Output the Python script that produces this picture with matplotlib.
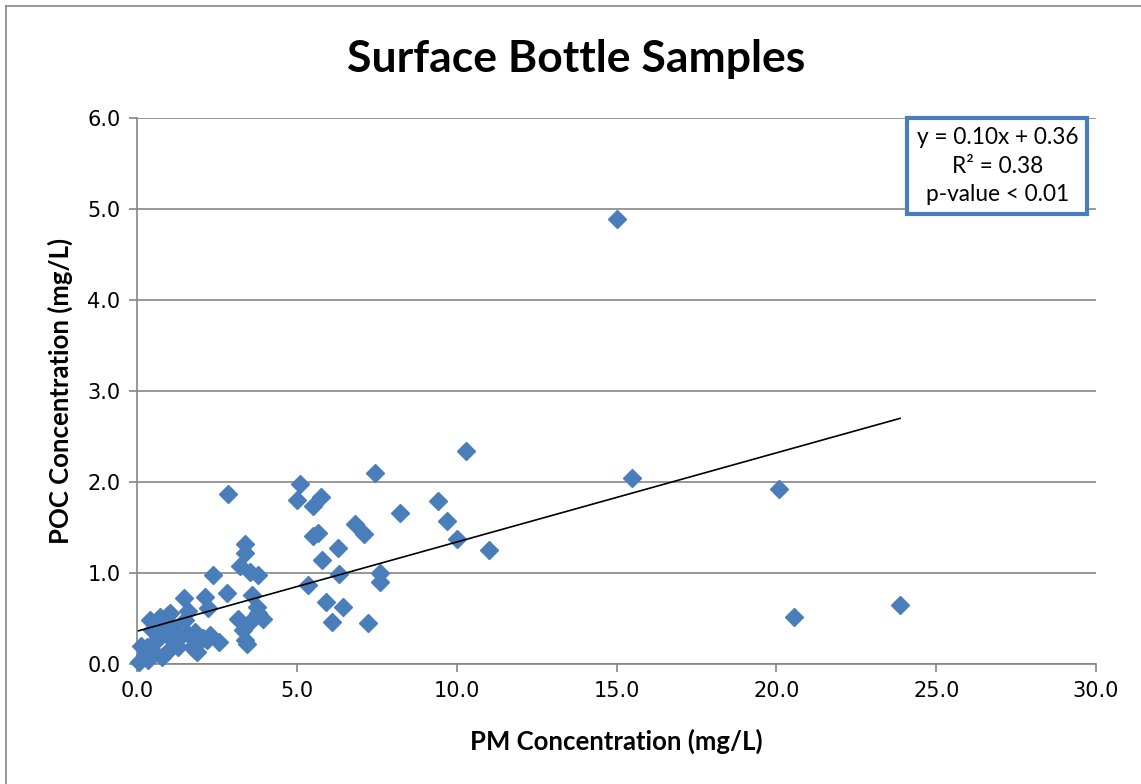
import matplotlib
matplotlib.use("Agg")
import matplotlib.pyplot as plt
from matplotlib.lines import Line2D

# PM vs POC concentration (mg/L)
pm = [15.01, 10.29, 7.44, 15.48, 20.08, 2.85, 5.10, 5.00, 5.76, 5.51,
      9.42, 8.23, 9.70, 6.82, 7.10, 5.51, 5.66, 10.01, 11.01, 3.38,
      3.38, 6.29, 5.79, 3.22, 3.53, 3.78, 2.38, 6.32, 7.60, 7.60,
      5.35, 2.82, 1.47, 2.13, 3.60, 5.91, 2.22, 6.44, 1.60, 3.75,
      3.94, 3.16, 3.57, 3.78, 6.10, 7.23, 20.55, 23.87, 3.32, 3.38,
      3.44, 2.56, 1.91, 2.19, 1.81, 1.81, 2.06, 2.28, 0.72, 0.97,
      1.13, 0.81, 1.09, 1.28, 0.94, 1.35, 1.56, 1.72, 1.88, 0.41,
      0.05, 0.34, 0.31, 0.56, 0.78, 0.56, 1.03, 0.47, 0.66, 0.88,
      0.25, 1.50, 0.12]
poc = [4.89, 2.34, 2.10, 2.04, 1.92, 1.87, 1.98, 1.80, 1.84, 1.74,
       1.79, 1.66, 1.57, 1.54, 1.43, 1.41, 1.44, 1.37, 1.25, 1.32,
       1.22, 1.27, 1.14, 1.08, 1.01, 0.98, 0.98, 0.99, 1.00, 0.90,
       0.87, 0.78, 0.73, 0.74, 0.76, 0.68, 0.62, 0.63, 0.58, 0.63,
       0.49, 0.49, 0.47, 0.56, 0.46, 0.45, 0.52, 0.65, 0.37, 0.26,
       0.22, 0.24, 0.30, 0.26, 0.15, 0.35, 0.29, 0.32, 0.52, 0.54,
       0.41, 0.37, 0.26, 0.19, 0.13, 0.30, 0.34, 0.19, 0.13, 0.48,
       0.02, 0.04, 0.19, 0.12, 0.08, 0.24, 0.56, 0.37, 0.30, 0.43,
       0.10, 0.48, 0.20]

slope, intercept = 0.098, 0.36
x_ticks = [0, 5, 10, 15, 20, 25, 30]
y_ticks = [0, 1, 2, 3, 4, 5, 6]
stats_text = "y = 0.10x + 0.36\nR² = 0.38\np-value < 0.01"

BLUE = "#4a7ebb"
GRID = "#868686"
LABEL_FONT = ["Lato", "DejaVu Sans"]

fig = plt.figure(figsize=(11.41, 7.84), dpi=100)
ax = fig.add_axes([0.1201, 0.1531, 0.8405, 0.6964])

ax.plot(pm, poc, "D", color=BLUE, ms=9, mec=BLUE, zorder=3, clip_on=False)
x0, x1 = min(pm), max(pm)
ax.plot([x0, x1], [slope * x0 + intercept, slope * x1 + intercept],
        color="black", lw=1.2, zorder=4)

ax.set_xlim(0, 30)
ax.set_ylim(0, 6)
ax.set_xticks(x_ticks)
ax.set_yticks(y_ticks)
ax.set_xticklabels([f"{v:.1f}" for v in x_ticks], fontsize=15)
ax.set_yticklabels([f"{v:.1f}" for v in y_ticks], fontsize=15)
ax.tick_params(direction="out", length=6, width=1.2, color=GRID, pad=6)
ax.yaxis.grid(True, color=GRID, lw=1.2)
ax.set_axisbelow(True)
for side in ("top", "right"):
    ax.spines[side].set_visible(False)
for side in ("left", "bottom"):
    ax.spines[side].set_color(GRID)
    ax.spines[side].set_linewidth(1.2)

ax.set_xlabel("PM Concentration (mg/L)", fontsize=18.5, fontweight="bold",
              family=LABEL_FONT, labelpad=20)
ax.set_ylabel("POC Concentration (mg/L)", fontsize=18.5, fontweight="bold",
              family=LABEL_FONT, labelpad=10)
fig.text(0.505, 0.925, "Surface Bottle Samples", ha="center", va="center",
         fontsize=32, fontweight="bold", family=LABEL_FONT)

ax.text(0.897, 0.912, stats_text, transform=ax.transAxes, ha="center",
        va="center", fontsize=16.3, family=LABEL_FONT, linespacing=1.45,
        bbox=dict(boxstyle="square,pad=0.4", fc="white", ec=BLUE, lw=3),
        zorder=5)

# outer chart frame (left and top edges visible)
fig.add_artist(Line2D([6 / 1141, 6 / 1141], [0, 1 - 6 / 784],
                      transform=fig.transFigure, color=GRID, lw=1.2))
fig.add_artist(Line2D([6 / 1141, 1], [1 - 6 / 784, 1 - 6 / 784],
                      transform=fig.transFigure, color=GRID, lw=1.2))

fig.savefig("out.png", dpi=100)
